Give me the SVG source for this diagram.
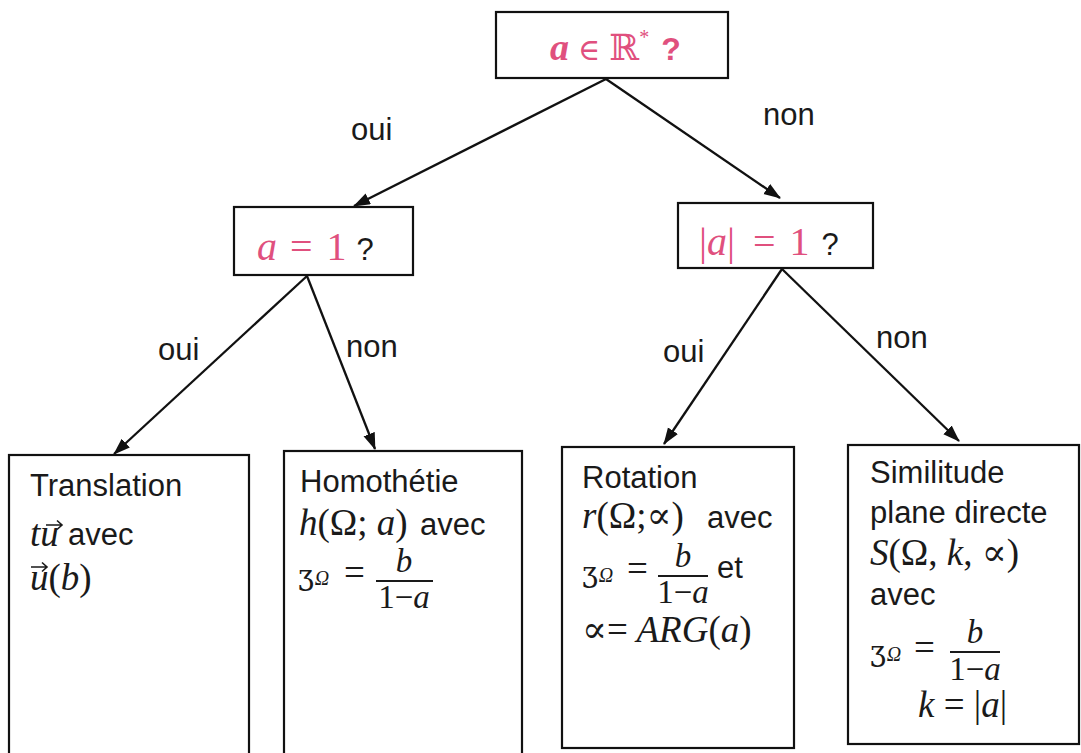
<svg xmlns="http://www.w3.org/2000/svg" width="1081" height="753" viewBox="0 0 1081 753">
<style>
.box{fill:#fff;stroke:#111;stroke-width:2.2}
.t{font-family:"Liberation Sans",Arial,sans-serif;font-size:31px;fill:#1a1a1a}
.m{font-family:"Liberation Serif","DejaVu Serif",serif;font-style:italic;font-size:37px;fill:#1a1a1a}
.up{font-style:normal}
.pk{fill:#e0507e}
.sm{font-family:"Liberation Serif",serif;font-style:italic;font-size:33px;fill:#1a1a1a}
.z{font-family:"DejaVu Serif",serif;font-size:28px;fill:#1a1a1a}
.sub{font-family:"Liberation Serif",serif;font-style:italic;font-size:20px;fill:#1a1a1a}
.fl{stroke:#1a1a1a;stroke-width:1.8}
.vec{stroke:#1a1a1a;stroke-width:1.6;fill:none}
.c{stroke:#111;stroke-width:2.3;fill:none;marker-end:url(#ah)}
</style>
<defs>
<marker id="ah" markerUnits="userSpaceOnUse" markerWidth="18" markerHeight="14" refX="16" refY="6" orient="auto">
<path d="M0,0 L17,6 L0,12 z" fill="#111"/>
</marker>
</defs>
<rect width="1081" height="753" fill="#fff"/>
<g id="connectors">
<line class="c" x1="606" y1="79" x2="354" y2="206"/>
<line class="c" x1="606" y1="79" x2="780" y2="198"/>
<line class="c" x1="307" y1="276" x2="114" y2="454"/>
<line class="c" x1="307" y1="276" x2="375" y2="449"/>
<line class="c" x1="782" y1="269" x2="664" y2="444"/>
<line class="c" x1="782" y1="269" x2="959" y2="441"/>
<text class="t" x="351" y="140">oui</text>
<text class="t" x="763" y="125">non</text>
<text class="t" x="158" y="360">oui</text>
<text class="t" x="346" y="357">non</text>
<text class="t" x="663" y="362">oui</text>
<text class="t" x="876" y="348">non</text>
</g>
<g id="q1">
<rect class="box" x="496" y="12" width="232" height="66"/>
<text x="550" y="60" class="pk"><tspan font-family="Liberation Serif,serif" font-style="italic" font-weight="bold" font-size="38">a</tspan><tspan font-family="DejaVu Serif,serif" dx="9" font-size="30">∈</tspan><tspan font-family="DejaVu Serif,serif" dx="9" font-size="36">ℝ</tspan><tspan font-family="Liberation Serif,serif" font-size="20" dy="-16">*</tspan><tspan font-family="Liberation Sans,sans-serif" font-weight="bold" dx="12" dy="16" font-size="32">?</tspan></text>
</g>
<g id="q2">
<rect class="box" x="234" y="207" width="179" height="68"/>
<text x="257" y="260" font-size="40"><tspan class="pk" font-family="Liberation Serif,serif" font-style="italic">a</tspan><tspan class="pk" font-family="Liberation Serif,serif" dx="13">=</tspan><tspan class="pk" font-family="Liberation Serif,serif" dx="14">1</tspan><tspan font-family="Liberation Sans,sans-serif" dx="10" font-size="31" fill="#1a1a1a">?</tspan></text>
</g>
<g id="q3">
<rect class="box" x="678" y="203" width="195" height="65"/>
<text x="699" y="255" font-size="40"><tspan class="pk" font-family="Liberation Serif,serif">|</tspan><tspan class="pk" font-family="Liberation Serif,serif" font-style="italic">a</tspan><tspan class="pk" font-family="Liberation Serif,serif">|</tspan><tspan class="pk" font-family="Liberation Serif,serif" dx="18">=</tspan><tspan class="pk" font-family="Liberation Serif,serif" dx="14">1</tspan><tspan font-family="Liberation Sans,sans-serif" dx="12" font-size="31" fill="#1a1a1a">?</tspan></text>
</g>
<g id="translation">
<rect class="box" x="9" y="455" width="240" height="320"/>
<text class="t" x="30" y="496">Translation</text>
<text class="m" x="30" y="546">t<tspan>u</tspan></text>
<path class="vec" d="M46,525 L62,525 M57,520.5 L62,525 L57,529.5"/>
<text class="t" x="68" y="545">avec</text>
<text class="m" x="30" y="590">u<tspan class="up">(</tspan>b<tspan class="up">)</tspan></text>
<path class="vec" d="M31,567 L47,567 M42,562.5 L47,567 L42,571.5"/>
</g>
<g id="homothetie">
<rect class="box" x="284" y="451" width="238" height="320"/>
<text class="t" x="300" y="492">Homothétie</text>
<text class="m" x="299" y="535">h<tspan class="up">(Ω;</tspan> a<tspan class="up">)</tspan></text>
<text class="t" x="420" y="535">avec</text>
<text class="z" x="298" y="585">ʒ<tspan class="sub" dx="1">Ω</tspan></text>
<text class="m" x="344" y="585"><tspan class="up">=</tspan></text>
<text class="sm" x="404" y="572" text-anchor="middle">b</text>
<line class="fl" x1="376" y1="581" x2="433" y2="581"/>
<text class="sm" x="404" y="608" text-anchor="middle"><tspan class="up">1−</tspan>a</text>
</g>
<g id="rotation">
<rect class="box" x="562" y="447" width="232" height="301"/>
<text class="t" x="582" y="488">Rotation</text>
<text class="m" x="582" y="528">r<tspan class="up">(Ω;∝)</tspan></text>
<text class="t" x="707" y="528">avec</text>
<text class="z" x="582" y="582">ʒ<tspan class="sub" dx="1">Ω</tspan></text>
<text class="m" x="627" y="581"><tspan class="up">=</tspan></text>
<text class="sm" x="683" y="567" text-anchor="middle">b</text>
<line class="fl" x1="658" y1="576" x2="708" y2="576"/>
<text class="sm" x="683" y="603" text-anchor="middle"><tspan class="up">1−</tspan>a</text>
<text class="t" x="717" y="578">et</text>
<text class="m" x="582" y="642"><tspan class="up">∝=</tspan> ARG<tspan class="up">(</tspan>a<tspan class="up">)</tspan></text>
</g>
<g id="similitude">
<rect class="box" x="848" y="445" width="231" height="299"/>
<text class="t" x="870" y="483">Similitude</text>
<text class="t" x="870" y="523">plane directe</text>
<text class="m" x="870" y="565">S<tspan class="up">(Ω,</tspan> k<tspan class="up">, ∝)</tspan></text>
<text class="t" x="870" y="605">avec</text>
<text class="z" x="870" y="661">ʒ<tspan class="sub" dx="1">Ω</tspan></text>
<text class="m" x="914" y="660"><tspan class="up">=</tspan></text>
<text class="sm" x="975" y="643" text-anchor="middle">b</text>
<line class="fl" x1="950" y1="652" x2="1000" y2="652"/>
<text class="sm" x="975" y="680" text-anchor="middle"><tspan class="up">1−</tspan>a</text>
<text class="m" x="918" y="717">k <tspan class="up">= |</tspan>a<tspan class="up">|</tspan></text>
</g>
</svg>
